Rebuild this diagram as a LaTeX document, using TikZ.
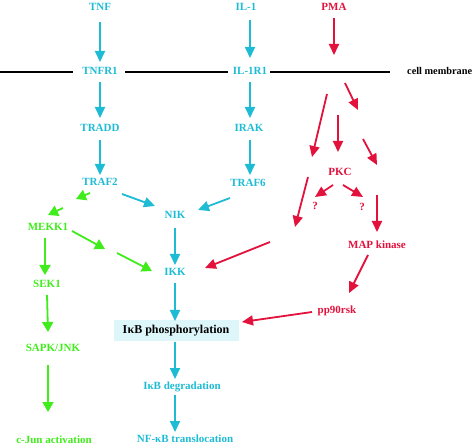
\documentclass[tikz,border=0pt]{standalone}
\usepackage{fontspec}
\setmainfont{Liberation Serif}
\usetikzlibrary{arrows.meta,calc}
\definecolor{cy}{RGB}{30,188,212}
\definecolor{gr}{RGB}{64,236,28}
\definecolor{rd}{RGB}{226,18,60}
\definecolor{boxfill}{RGB}{220,246,250}
\begin{document}
\begin{tikzpicture}[x=1pt,y=-1pt,
  lbl/.style={font=\fontsize{11}{13}\selectfont\bfseries, inner sep=1pt, text height=7.5pt, text depth=2pt},
  cyl/.style={lbl,text=cy},
  grl/.style={lbl,text=gr},
  rdl/.style={lbl,text=rd},
  ca/.style={draw=cy, line width=1.8pt, -{Triangle[length=11pt,width=10pt]}, fill=cy},
  ga/.style={draw=gr, line width=1.8pt, -{Triangle[length=10pt,width=11pt]}, fill=gr},
  ra/.style={draw=rd, line width=1.8pt, -{Triangle[length=11pt,width=10pt]}, fill=rd},
  membrane/.style={draw=black, line width=1.1pt}]
\useasboundingbox (0,0) rectangle (474,446);

% cyan nodes
\node[cyl] (tnf) at (100,8) {TNF};
\node[cyl] (tnfr1) at (100,72) {TNFR1};
\node[cyl] (tradd) at (100,129) {TRADD};
\node[cyl] (traf2) at (100,183) {TRAF2};
\node[cyl] (il1) at (246,8) {IL-1};
\node[cyl] (il1r1) at (250,72) {IL-1R1};
\node[cyl] (irak) at (249,129) {IRAK};
\node[cyl] (traf6) at (248,184) {TRAF6};
\node[cyl] (nik) at (175,216) {NIK};
\node[cyl] (ikk) at (175,273) {IKK};
\node[lbl, font=\fontsize{12}{14}\selectfont\bfseries, fill=boxfill, minimum width=125pt, minimum height=21pt, text=black] (phos) at (176,331) {I\kern0.3ptκB phosphorylation};
\node[cyl] (degr) at (182,387) {IκB degradation};
\node[cyl] (transl) at (185,440) {NF-κB translocation};

% green nodes
\node[grl] (mekk1) at (48,228) {MEKK1};
\node[grl] (sek1) at (47,285) {SEK1};
\node[grl] (sapk) at (53,349) {SAPK/JNK};
\node[grl] (cjun) at (54,441) {c-Jun activation};

% red nodes
\node[rdl] (pma) at (334,8) {PMA};
\node[rdl] (pkc) at (340,173) {PKC};
\node[rdl] (q1) at (315,207) {?};
\node[rdl] (q2) at (362,208) {?};
\node[rdl] (map) at (377,246) {MAP kinase};
\node[rdl] (pp90) at (337,311) {pp90rsk};

% membrane
\node[lbl, font=\fontsize{10.3}{12}\selectfont\bfseries, anchor=west] (cm) at (406,72) {cell membrane};
\coordinate (mleft) at (0,72);
\draw[membrane] (mleft) -- ($(tnfr1)+(-27,0)$);
\draw[membrane] ($(tnfr1)+(25,0)$) -- ($(il1r1)+(-22,0)$);
\draw[membrane] ($(il1r1)+(20,0)$) -- ($(cm.west)+(-16,0)$);

% cyan arrows
\draw[ca] ($(tnf)+(0,14)$) -- ($(tnfr1)+(0,-10)$);
\draw[ca] ($(tnfr1)+(0,10)$) -- ($(tradd)+(0,-11)$);
\draw[ca] ($(tradd)+(0,11)$) -- ($(traf2)+(0,-8)$);
\draw[ca] ($(il1)+(4,12)$) -- ($(il1r1)+(0,-14)$);
\draw[ca] ($(il1r1)+(0,10)$) -- ($(irak)+(1,-11)$);
\draw[ca] ($(irak)+(1,11)$) -- ($(traf6)+(2,-9)$);
\draw[ca] ($(traf2)+(22,11)$) -- ($(nik)+(-20,-10)$);
\draw[ca] ($(traf6)+(-18,14)$) -- ($(nik)+(23,-6)$);
\draw[ca] ($(nik)+(0,12)$) -- ($(ikk)+(0,-8)$);
\draw[ca] ($(ikk)+(0,10)$) -- ($(phos)+(-1,-10)$);
\draw[ca] ($(phos)+(-1,11)$) -- ($(degr)+(-7,-8)$);
\draw[ca] ($(degr)+(-7,8)$) -- ($(transl)+(-10,-8)$);

% green arrows
\draw[ga] ($(traf2)+(-10,10)$) -- ($(traf2)+(-24,16)$);
\draw[ga] ($(mekk1)+(15,-20)$) -- ($(mekk1)+(0,-13)$);
\draw[ga] ($(mekk1)+(24,3)$) -- ($(mekk1)+(57,21)$);
\draw[ga] ($(ikk)+(-58,-20)$) -- ($(ikk)+(-23,-2)$);
\draw[ga] ($(mekk1)+(-3,10)$) -- ($(sek1)+(-2,-10)$);
\draw[ga] ($(sek1)+(0,10)$) -- ($(sapk)+(-5,-17)$);
\draw[ga] ($(sapk)+(-5,16)$) -- ($(cjun)+(-6,-29)$);

% red arrows
\coordinate (pmaend) at (334,55);
\draw[ra] ($(pma)+(0,10)$) -- (pmaend);
\coordinate (r1a) at (327,94);
\coordinate (r1b) at (312,157);
\coordinate (r1c) at (308,177);
\coordinate (r1d) at (295,227);
\draw[ra] (r1a) -- (r1b);
\draw[ra] (r1c) -- (r1d);
\coordinate (r2a) at (338,115);
\draw[ra] (r2a) -- ($(pkc)+(-2,-21)$);
\coordinate (r3a) at (345,83);
\coordinate (r3b) at (358,110);
\coordinate (r3c) at (363,139);
\coordinate (r3d) at (377,165);
\draw[ra] (r3a) -- (r3b);
\draw[ra] (r3c) -- (r3d);
\draw[ra] ($(pkc)+(-7,12)$) -- ($(q1)+(0,-10)$);
\draw[ra] ($(pkc)+(3,12)$) -- ($(q2)+(1,-11)$);
\coordinate (r4a) at (377,195);
\draw[ra] (r4a) -- ($(map)+(0,-14)$);
\draw[ra] ($(map)+(-9,9)$) -- ($(pp90)+(12,-18)$);
\draw[ra] ($(pp90)+(-25,1)$) -- ($(phos)+(66,-9)$);
\coordinate (r5a) at (270,242);
\draw[ra] (r5a) -- ($(ikk)+(30,-5)$);
\end{tikzpicture}
\end{document}
